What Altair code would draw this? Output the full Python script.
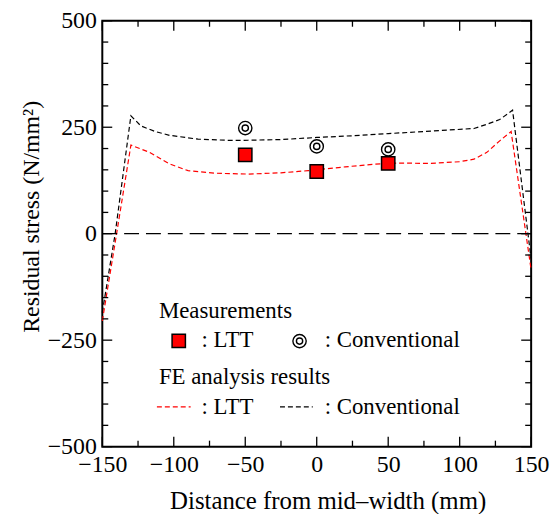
import altair as alt
import pandas as pd

# FE analysis curves
conv_x = [-150, -141, -130, -123, -113, -103, -83, -60, -48, -25, 0, 25, 50, 80, 110, 119, 128, 137, 150]
conv_y = [-185, 0, 277, 253, 240, 231, 222, 219, 219.5, 221, 226, 230, 235, 241, 247, 257, 268, 290, -60]
ltt_x = [-150, -140, -130, -117, -103, -90, -71, -48, -25, -6, 0, 20, 40, 56, 79, 100, 110, 119, 128, 136, 150]
ltt_y = [-205, 0, 208, 191, 164, 148, 142, 140, 143, 148, 150, 157, 163, 166, 165, 169, 175, 191, 218, 240, -85]

# Measurements
meas_x = [-50, 0, 50]
meas_ltt = [185, 146, 165]
meas_conv = [248, 205, 198]

# Ticks
x_major = [-150, -100, -50, 0, 50, 100, 150]
x_minor = [-125, -75, -25, 25, 75, 125]
y_major = [-500, -250, 0, 250, 500]
y_minor = [v for v in range(-450, 500, 50) if v % 250 != 0]

W, H = 432, 429
FONT = "Liberation Serif"
RED = "#ff0000"

xs = alt.Scale(domain=[-150, 150], nice=False, zero=False)
ys = alt.Scale(domain=[-500, 500], nice=False, zero=False)

conv_df = pd.DataFrame({"x": conv_x, "y": conv_y, "o": range(len(conv_x))})
ltt_df = pd.DataFrame({"x": ltt_x, "y": ltt_y, "o": range(len(ltt_x))})
meas_df = pd.DataFrame({"x": meas_x, "ltt": meas_ltt, "conv": meas_conv})

xaxis = alt.Axis(values=x_major, ticks=False, domain=False, grid=False,
                 labelFont=FONT, labelFontSize=24, labelColor="black",
                 labelPadding=6, labelFlush=False, labelOverlap=False,
                 title="Distance from mid\u2013width (mm)", titleFont=FONT,
                 titleFontSize=25, titleFontWeight="normal", titleColor="black",
                 titleX=227, titleY=54, titleAlign="center", titleBaseline="middle")
yaxis = alt.Axis(values=y_major, ticks=False, domain=False, grid=False,
                 labelFont=FONT, labelFontSize=24, labelColor="black",
                 labelPadding=6, labelOverlap=False, labelFlush=False,
                 title="Residual stress (N/mm\u00b2)", titleFont=FONT,
                 titleFontSize=24, titleFontWeight="normal", titleColor="black",
                 titleX=-71, titleY=197, titleAngle=270, titleAlign="center",
                 titleBaseline="middle")

conv_line = alt.Chart(conv_df).mark_line(color="black", strokeWidth=1.2, strokeDash=[5, 3]).encode(
    x=alt.X("x:Q", scale=xs, axis=xaxis), y=alt.Y("y:Q", scale=ys, axis=yaxis), order="o:Q")
ltt_line = alt.Chart(ltt_df).mark_line(color=RED, strokeWidth=1.2, strokeDash=[5, 3]).encode(
    x=alt.X("x:Q", scale=xs, axis=xaxis), y=alt.Y("y:Q", scale=ys, axis=yaxis), order="o:Q")

zero = alt.Chart(pd.DataFrame({"y": [0]})).mark_rule(color="black", strokeWidth=1.3, strokeDash=[15, 7]).encode(
    y=alt.Y("y:Q", scale=ys, axis=yaxis), x=alt.value(0), x2=alt.value(W))

sq = alt.Chart(meas_df).mark_point(shape="square", filled=True, fill=RED, stroke="black",
                                   strokeWidth=1.5, size=180, opacity=1).encode(
    x=alt.X("x:Q", scale=xs, axis=xaxis), y=alt.Y("ltt:Q", scale=ys, axis=yaxis))
c_out = alt.Chart(meas_df).mark_point(shape="circle", filled=False, color="black",
                                      strokeWidth=1.4, size=180, opacity=1).encode(
    x=alt.X("x:Q", scale=xs, axis=xaxis), y=alt.Y("conv:Q", scale=ys, axis=yaxis))
c_in = alt.Chart(meas_df).mark_point(shape="circle", filled=False, color="black",
                                     strokeWidth=1.4, size=40, opacity=1).encode(
    x=alt.X("x:Q", scale=xs, axis=xaxis), y=alt.Y("conv:Q", scale=ys, axis=yaxis))

# inward ticks
def xticks(vals, length):
    d = pd.DataFrame({"x": vals})
    b = alt.Chart(d).mark_rule(color="black", strokeWidth=1.3).encode(
        x=alt.X("x:Q", scale=xs, axis=xaxis), y=alt.value(H), y2=alt.value(H - length))
    t = alt.Chart(d).mark_rule(color="black", strokeWidth=1.3).encode(
        x=alt.X("x:Q", scale=xs, axis=xaxis), y=alt.value(0), y2=alt.value(length))
    return [b, t]

def yticks(vals, length):
    d = pd.DataFrame({"y": vals})
    l = alt.Chart(d).mark_rule(color="black", strokeWidth=1.3).encode(
        y=alt.Y("y:Q", scale=ys, axis=yaxis), x=alt.value(0), x2=alt.value(length))
    r = alt.Chart(d).mark_rule(color="black", strokeWidth=1.3).encode(
        y=alt.Y("y:Q", scale=ys, axis=yaxis), x=alt.value(W), x2=alt.value(W - length))
    return [l, r]

ticks = xticks(x_major, 10) + xticks(x_minor, 6) + yticks(y_major, 10) + yticks(y_minor, 6)

# legend
def txt(s, x, y):
    return alt.Chart(pd.DataFrame({"t": [s]})).mark_text(
        font=FONT, fontSize=23, align="left", baseline="alphabetic", color="black").encode(
        text="t:N", x=alt.value(x), y=alt.value(y))

one = pd.DataFrame({"a": [0]})
leg = [
    txt("Measurements", 57, 299),
    alt.Chart(one).mark_point(shape="square", filled=True, fill=RED, stroke="black",
                              strokeWidth=1.5, size=180, opacity=1).encode(
        x=alt.value(77), y=alt.value(322.5)),
    txt(": LTT", 100, 329),
    alt.Chart(one).mark_point(shape="circle", filled=False, color="black", strokeWidth=1.4,
                              size=180, opacity=1).encode(x=alt.value(198.7), y=alt.value(322.7)),
    alt.Chart(one).mark_point(shape="circle", filled=False, color="black", strokeWidth=1.4,
                              size=40, opacity=1).encode(x=alt.value(198.7), y=alt.value(322.7)),
    txt(": Conventional", 224, 329),
    txt("FE analysis results", 57, 366),
    alt.Chart(one).mark_rule(color=RED, strokeWidth=1.2, strokeDash=[5, 3]).encode(
        x=alt.value(55), x2=alt.value(89), y=alt.value(389)),
    txt(": LTT", 100, 396),
    alt.Chart(one).mark_rule(color="black", strokeWidth=1.2, strokeDash=[5, 3]).encode(
        x=alt.value(179), x2=alt.value(212), y=alt.value(389)),
    txt(": Conventional", 224, 396),
]

chart = alt.layer(conv_line, ltt_line, zero, sq, c_out, c_in, *ticks, *leg).properties(
    width=W, height=H,
    background="white",
    autosize=alt.AutoSizeParams(type="none"),
    padding={"left": 95, "top": 11, "right": 20, "bottom": 66},
).configure_view(stroke="black", strokeWidth=2).configure_axis(
    labelFont=FONT, labelFontSize=24, labelColor="black",
    titleFont=FONT, titleFontWeight="normal", titleColor="black",
)

chart.save("out.html", embed_options={"renderer": "svg", "actions": False})
